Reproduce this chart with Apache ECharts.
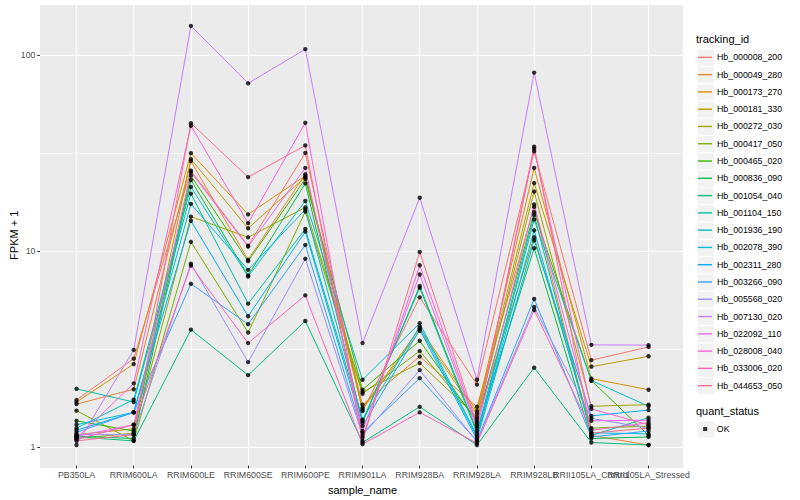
<!DOCTYPE html>
<html>
<head>
<meta charset="utf-8">
<script src="https://cdn.jsdelivr.net/npm/echarts@6/dist/echarts.min.js"></script>
<style>
html,body{margin:0;padding:0;background:#fff;}
#chart{width:800px;height:500px;}
</style>
</head>
<body>
<div id="chart"></div>
<script>
// ---- data ----
const categories = ['PB350LA','RRIM600LA','RRIM600LE','RRIM600SE','RRIM600PE','RRIM901LA','RRIM928BA','RRIM928LA','RRIM928LB','RRII105LA_Control','RRII105LA_Stressed'];
const yTickValues = [1, 10, 100];
const yTickLabels = ['1', '10', '100'];
const trackingIds = ['Hb_000008_200','Hb_000049_280','Hb_000173_270','Hb_000181_330','Hb_000272_030','Hb_000417_050','Hb_000465_020','Hb_000836_090','Hb_001054_040','Hb_001104_150','Hb_001936_190','Hb_002078_390','Hb_002311_280','Hb_003266_090','Hb_005568_020','Hb_007130_020','Hb_022092_110','Hb_028008_040','Hb_033006_020','Hb_044653_050'];
const quantStatus = ['OK'];

const Hb_000008_200 = [1.70, 2.77, 25.5, 10.5, 31.4, 1.49, 5.71, 2.04, 32.0, 2.72, 3.18];
const Hb_000049_280 = [1.62, 1.93, 28.5, 8.9, 24.4, 1.61, 2.84, 1.57, 16.6, 1.12, 1.0];
const Hb_000173_270 = [1.66, 2.60, 31.3, 15.2, 24.0, 1.55, 3.97, 1.49, 26.3, 2.19, 1.92];
const Hb_000181_330 = [1.13, 1.21, 29.2, 12.9, 23.6, 1.52, 3.85, 1.44, 22.0, 2.52, 2.85];
const Hb_000272_030 = [1.08, 1.15, 14.8, 11.6, 16.5, 1.87, 2.63, 1.39, 19.9, 1.58, 1.61];
const Hb_000417_050 = [1.50, 1.05, 11.0, 3.77, 15.7, 1.83, 3.03, 1.35, 11.6, 1.22, 1.25];
const Hb_000465_020 = [1.33, 1.18, 24.0, 8.75, 23.1, 1.92, 3.42, 1.31, 15.6, 2.14, 1.12];
const Hb_000836_090 = [1.11, 1.08, 22.8, 7.4, 21.9, 1.30, 6.53, 1.18, 10.2, 1.08, 1.10];
const Hb_001054_040 = [1.10, 1.05, 3.9, 2.28, 4.32, 1.03, 1.57, 1.0, 2.49, 1.03, 1.0];
const Hb_001104_150 = [1.94, 1.66, 19.4, 5.3, 12.8, 1.33, 6.38, 1.15, 15.1, 1.12, 1.38];
const Hb_001936_190 = [1.22, 1.71, 21.0, 7.3, 17.8, 2.16, 4.21, 1.12, 14.3, 2.14, 1.58];
const Hb_002078_390 = [1.27, 1.47, 17.2, 7.9, 16.1, 1.35, 4.05, 1.10, 12.6, 1.155, 1.14];
const Hb_002311_280 = [1.19, 1.47, 14.1, 4.57, 12.4, 1.25, 3.9, 1.07, 11.2, 1.41, 1.51];
const Hb_003266_090 = [1.16, 1.47, 6.7, 4.16, 10.6, 1.155, 2.20, 1.05, 5.6, 1.10, 1.18];
const Hb_005568_020 = [1.13, 1.13, 8.5, 2.66, 9.0, 1.12, 2.42, 1.04, 5.1, 1.37, 1.22];
const Hb_007130_020 = [1.0, 3.07, 140.6, 71.4, 106.8, 3.33, 18.5, 2.16, 81, 3.26, 3.25];
const Hb_022092_110 = [1.11, 1.27, 25.0, 10.4, 26.3, 1.18, 7.48, 1.22, 17.1, 1.33, 1.34];
const Hb_028008_040 = [1.08, 2.07, 43.2, 13.7, 44.8, 1.09, 8.34, 1.25, 32.9, 1.53, 1.27];
const Hb_033006_020 = [1.07, 1.27, 8.3, 3.33, 5.85, 1.01, 1.47, 1.02, 4.92, 1.19, 1.30];
const Hb_044653_050 = [1.05, 1.13, 44.6, 23.6, 34.3, 1.05, 9.75, 1.28, 33.8, 1.15, 1.22];

const seriesValues = [Hb_000008_200, Hb_000049_280, Hb_000173_270, Hb_000181_330, Hb_000272_030, Hb_000417_050, Hb_000465_020, Hb_000836_090, Hb_001054_040, Hb_001104_150, Hb_001936_190, Hb_002078_390, Hb_002311_280, Hb_003266_090, Hb_005568_020, Hb_007130_020, Hb_022092_110, Hb_028008_040, Hb_033006_020, Hb_044653_050];

// ---- style / layout ----
const palette = ['#F8766D','#EA8331','#D89000','#C09B00','#A3A500','#7CAE00','#39B600','#00BB4E','#00BF7D','#00C1A3','#00BFC4','#00BAE0','#00B0F6','#35A2FF','#9590FF','#C77CFF','#E76BF3','#FA62DB','#FF62BC','#FF6C91'];
const FONT = 'Liberation Sans, Arial, Helvetica, sans-serif';
const PANEL = {x0: 40, x1: 683, y0: 5, y1: 468};
const Y100 = 55, Y1 = 447.3;
const DECADE = (Y1 - Y100) / 2;
const STEP = (PANEL.x1 - PANEL.x0) / (categories.length - 1 + 1.2);
const X0 = PANEL.x0 + 0.6 * STEP;
const XW = STEP * (categories.length - 1);
const yMinPanel = Math.pow(10, -(PANEL.y1 - Y1) / DECADE);
const yMaxPanel = Math.pow(10, 2 + (Y100 - PANEL.y0) / DECADE);
const keyTop = 48.7, keyStep = 17.28;

const chart = echarts.init(document.getElementById('chart'), null, {renderer: 'svg'});

const series = [];
trackingIds.forEach((id, k) => {
  series.push({
    type: 'line', name: id, xAxisIndex: 3, yAxisIndex: 3,
    data: seriesValues[k].map((v, i) => [i, v]),
    showSymbol: false, symbol: 'none', silent: true,
    emphasis: {disabled: true},
    lineStyle: {color: palette[k], width: 1},
    itemStyle: {color: palette[k]},
    z: 2, animation: false
  });
});
const okPoints = [];
seriesValues.forEach(arr => arr.forEach((v, i) => okPoints.push([i, v])));
series.push({
  type: 'scatter', name: quantStatus[0], data: okPoints, xAxisIndex: 3, yAxisIndex: 3,
  symbol: 'circle', symbolSize: 4.4, silent: true,
  emphasis: {disabled: true},
  itemStyle: {color: '#000000'}, z: 3, animation: false
});

const graphics = [];
trackingIds.forEach((id, k) => {
  graphics.push({type: 'rect', left: 696.5, top: keyTop + k * keyStep, z: -1, silent: true,
    shape: {width: 17.28, height: 17.28}, style: {fill: '#F2F2F2', stroke: '#ffffff', lineWidth: 1}});
});
graphics.push({type: 'rect', left: 696.5, top: 420.4, z: -1, silent: true,
  shape: {width: 17.28, height: 17.28}, style: {fill: '#F2F2F2', stroke: '#ffffff', lineWidth: 1}});

const tickStyle = {show: true, length: 2.75, lineStyle: {color: '#333333', width: 1}};
const labelStyle = {fontSize: 8.8, color: '#4D4D4D', fontFamily: FONT};

const option = {
  backgroundColor: '#ffffff',
  animation: false,
  textStyle: {fontFamily: FONT},
  grid: [
    {left: PANEL.x0, top: PANEL.y0, width: PANEL.x1 - PANEL.x0, height: PANEL.y1 - PANEL.y0,
      show: true, backgroundColor: '#EBEBEB', borderWidth: 0},
    {left: PANEL.x0, top: Y100, width: PANEL.x1 - PANEL.x0, height: Y1 - Y100, show: false},
    {left: PANEL.x0, top: Y100 + DECADE / 2, width: PANEL.x1 - PANEL.x0, height: DECADE, show: false},
    {left: X0, top: PANEL.y0, width: XW, height: PANEL.y1 - PANEL.y0, show: false}
  ],
  title: [
    {text: 'tracking_id', left: 696, top: 33.5, padding: 0, textStyle: {fontSize: 11, fontWeight: 'normal', color: '#000', fontFamily: FONT}},
    {text: 'quant_status', left: 696, top: 405.5, padding: 0, textStyle: {fontSize: 11, fontWeight: 'normal', color: '#000', fontFamily: FONT}}
  ],
  legend: [
    {
      data: trackingIds.map((id, k) => ({name: id, itemStyle: {color: palette[k]}})),
      orient: 'vertical', left: 698, top: keyTop, padding: 0, itemGap: 0,
      icon: 'rect', itemWidth: 14, itemHeight: 1.4,
      selectedMode: false,
      textStyle: {fontSize: 8.8, color: '#000', fontFamily: FONT, lineHeight: keyStep, height: keyStep}
    },
    {
      data: quantStatus.map(q => ({name: q, itemStyle: {color: '#000'}})),
      orient: 'vertical', left: 703.2, top: 420.4, padding: 0, itemGap: 0,
      icon: 'rect', itemWidth: 4, itemHeight: 4,
      selectedMode: false,
      textStyle: {fontSize: 8.8, color: '#000', fontFamily: FONT, lineHeight: keyStep, height: keyStep, padding: [0, 0, 0, 4.6]}
    }
  ],
  xAxis: [
    {gridIndex: 0, type: 'value', min: 0, max: 1, show: false},
    {gridIndex: 1, type: 'value', min: 0, max: 1, show: false},
    {gridIndex: 2, type: 'value', min: 0, max: 1, show: false},
    {
      gridIndex: 3, type: 'category', data: categories, boundaryGap: false,
      name: 'sample_name', nameLocation: 'middle', nameGap: 14,
      nameTextStyle: {fontSize: 11, color: '#000', fontFamily: FONT},
      axisLine: {show: false},
      axisTick: Object.assign({interval: 0}, tickStyle),
      axisLabel: Object.assign({interval: 0, margin: 4.5, hideOverlap: false}, labelStyle),
      splitLine: {show: true, interval: 0, lineStyle: {color: '#ffffff', width: 1.1}}
    }
  ],
  yAxis: [
    {gridIndex: 0, type: 'value', show: false},
    {
      gridIndex: 1, type: 'log', logBase: 10, min: yTickValues[0], max: yTickValues[yTickValues.length - 1],
      axisLine: {show: false},
      axisTick: tickStyle,
      axisLabel: Object.assign({margin: 4.5, formatter: v => {
        const idx = yTickValues.findIndex(t => Math.abs(Math.log10(v) - Math.log10(t)) < 1e-6);
        return idx >= 0 ? yTickLabels[idx] : '';
      }}, labelStyle),
      splitLine: {show: true, lineStyle: {color: '#ffffff', width: 1.1}},
      minorTick: {show: false}, minorSplitLine: {show: false}
    },
    {
      gridIndex: 2, type: 'log', logBase: 10, min: Math.sqrt(10), max: Math.sqrt(1000),
      axisLine: {show: false}, axisTick: {show: false}, axisLabel: {show: false},
      splitLine: {show: true, lineStyle: {color: '#ffffff', width: 0.55}},
      minorSplitLine: {show: false}
    },
    {
      gridIndex: 3, type: 'log', logBase: 10, min: yMinPanel, max: yMaxPanel,
      name: 'FPKM + 1', nameLocation: 'middle', nameGap: 57.5, nameRotate: 90,
      nameTextStyle: {fontSize: 11, color: '#000', fontFamily: FONT},
      axisLine: {show: false}, axisTick: {show: false}, axisLabel: {show: false},
      splitLine: {show: false}, minorSplitLine: {show: false}
    }
  ],
  graphic: graphics,
  series: series
};
chart.setOption(option);
</script>
</body>
</html>
